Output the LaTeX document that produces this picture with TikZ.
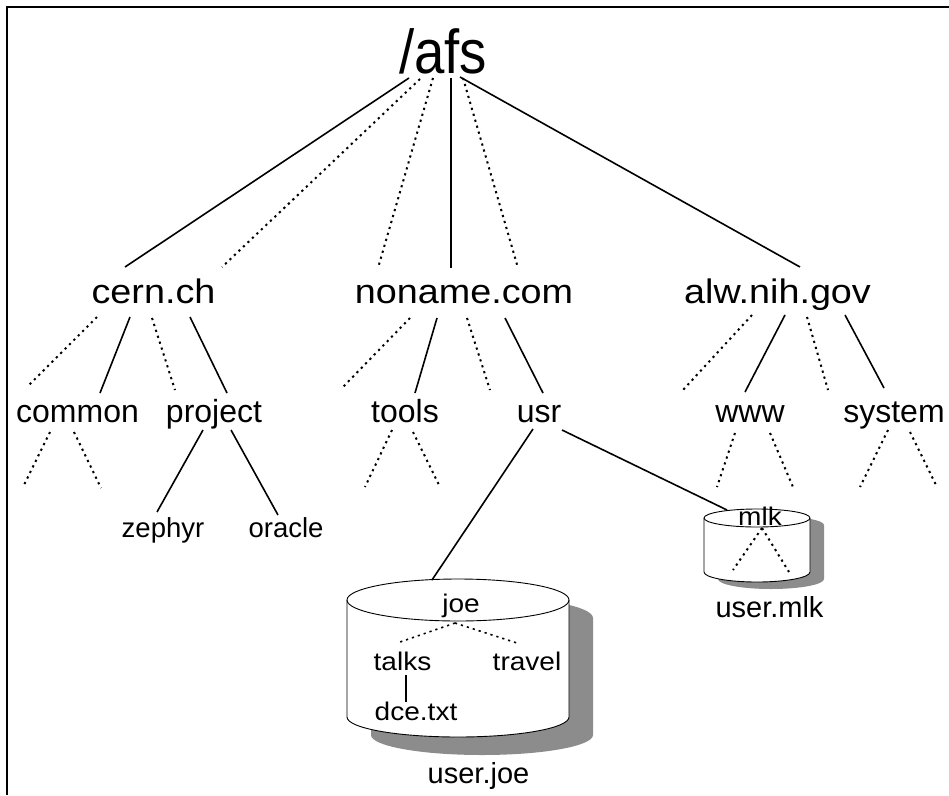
\documentclass[tikz,border=0pt]{standalone}
\usepackage{fontspec}
\setmainfont{Liberation Sans}
\newfontfamily\rootfont[FakeStretch=0.88]{Liberation Sans}
\newfontfamily\cellfont[FakeStretch=1.11]{Liberation Sans}
\newfontfamily\volfont[FakeStretch=1.1]{Liberation Sans}

\begin{document}
\begin{tikzpicture}[
    x=1pt, y=-1pt,
    every node/.style={inner sep=0pt, anchor=base},
    root/.style={font={\rootfont\fontsize{62}{62}\selectfont}},
    cell/.style={font={\cellfont\fontsize{34}{34}\selectfont}},
    dir/.style={font={\fontsize{32}{32}\selectfont}},
    leaf/.style={font={\fontsize{27.5}{28}\selectfont}},
    voltext/.style={font={\volfont\fontsize{25.5}{26}\selectfont}},
    vollabel/.style={font={\fontsize{29}{30}\selectfont}},
    link/.style={line width=1.6pt},
    more/.style={line width=2pt, dash pattern=on 2.2pt off 4pt},
    volume/.style={draw, line width=0.9pt, fill=white},
    shade/.style={fill=black!45}
]
\useasboundingbox (0,0) rectangle (949,795);

% frame
\draw[line width=1.8pt] (949,7) -- (7,7) -- (7,795);

% volumes
\fill[shade] (371,618) -- (371,735) arc (180:0:111 and 20) -- (593,618) arc (0:-180:111 and 21) -- cycle;
\draw[volume] (347,600) -- (347,717) arc (180:0:111 and 20) -- (569,600) arc (0:-180:111 and 21) -- cycle;
\draw[line width=0.9pt] (347,600) arc (180:0:111 and 21);

\fill[shade] (718,525) -- (718,579) arc (180:0:53 and 10) -- (824,525) arc (0:-180:53 and 9) -- cycle;
\draw[volume] (704,518) -- (704,572) arc (180:0:53 and 10) -- (810,518) arc (0:-180:53 and 9) -- cycle;
\draw[line width=0.9pt] (704,518) arc (180:0:53 and 9);

% directories
\node[root] (afs) at (443,73) {/afs};

\node[cell] (cern) at (153.5,303) {cern.ch};
\node[cell] (noname) at (464,303) {noname.com};
\node[cell] (alw) at (777.5,303) {alw.nih.gov};

\node[dir] (common) at (77.5,422) {common};
\node[dir] (project) at (214,422) {project};
\node[dir] (tools) at (405,422) {tools};
\node[dir] (usr) at (539,422) {usr};
\node[dir] (www) at (750,422) {www};
\node[dir] (system) at (894,422) {system};

\node[leaf] (zephyr) at (163,537) {zephyr};
\node[leaf] (oracle) at (286,537) {oracle};

\node[voltext] (joe) at (461,612) {joe};
\node[voltext] (talks) at (402.5,670) {talks};
\node[voltext] (travel) at (527,670) {travel};
\node[voltext] (dce) at (416,720) {dce.txt};
\node[vollabel] (userjoe) at (478.5,783) {user.joe};

\node[voltext] (mlk) at (760,525) {mlk};
\node[vollabel] (usermlk) at (769.5,617) {user.mlk};

% loose ends
\coordinate (afs1) at (222,267);
\coordinate (afs2) at (378,268);
\coordinate (afs3) at (518,268);
\coordinate (cern1) at (27,387);
\coordinate (cern2) at (175,390);
\coordinate (noname1) at (342,388);
\coordinate (noname2) at (490,390);
\coordinate (alw1) at (683,390);
\coordinate (alw2) at (828,390);
\coordinate (common1) at (23,487);
\coordinate (common2) at (101,488);
\coordinate (tools1) at (365,487);
\coordinate (tools2) at (440,487);
\coordinate (www1) at (717,487);
\coordinate (www2) at (793,487);
\coordinate (system1) at (860,487);
\coordinate (system2) at (937,487);
\coordinate (mlk1) at (733,570);
\coordinate (mlk2) at (789,572);
\coordinate (joerim) at (432,580);
\coordinate (mlkrim) at (727,510);

% /afs
\draw[link] ([shift={(-34,5)}]afs.base) -- ([shift={(-28.5,-36)}]cern.base);
\draw[more] ([shift={(-23,6)}]afs.base) -- (afs1);
\draw[more] ([shift={(-10,5)}]afs.base) -- (afs2);
\draw[link] ([shift={(8,5)}]afs.base) -- ([shift={(-13,-35)}]noname.base);
\draw[more] ([shift={(20,5)}]afs.base) -- (afs3);
\draw[link] ([shift={(17,4)}]afs.base) -- ([shift={(22.5,-36)}]alw.base);

% cells
\draw[more] ([shift={(-56.5,14)}]cern.base) -- (cern1);
\draw[link] ([shift={(-23.5,14)}]cern.base) -- ([shift={(22.5,-29)}]common.base);
\draw[more] ([shift={(-1.5,15)}]cern.base) -- (cern2);
\draw[link] ([shift={(36.5,14)}]cern.base) -- ([shift={(13,-29)}]project.base);

\draw[more] ([shift={(-54,15)}]noname.base) -- (noname1);
\draw[link] ([shift={(-27,15)}]noname.base) -- ([shift={(10,-29)}]tools.base);
\draw[more] ([shift={(3,15)}]noname.base) -- (noname2);
\draw[link] ([shift={(41,15)}]noname.base) -- ([shift={(4,-29)}]usr.base);

\draw[more] ([shift={(-25.5,12)}]alw.base) -- (alw1);
\draw[link] ([shift={(7.5,12)}]alw.base) -- ([shift={(-5,-30)}]www.base);
\draw[more] ([shift={(29.5,14)}]alw.base) -- (alw2);
\draw[link] ([shift={(67.5,12)}]alw.base) -- ([shift={(-10,-34)}]system.base);

% subdirectories
\draw[more] ([shift={(-27.5,10)}]common.base) -- (common1);
\draw[more] ([shift={(-3.5,10)}]common.base) -- (common2);
\draw[link] ([shift={(-11,8)}]project.base) -- ([shift={(-6,-25)}]zephyr.base);
\draw[link] ([shift={(17,8)}]project.base) -- ([shift={(-8,-22)}]oracle.base);
\draw[more] ([shift={(-13,8)}]tools.base) -- (tools1);
\draw[more] ([shift={(8,10)}]tools.base) -- (tools2);
\draw[link] ([shift={(-6,7)}]usr.base) -- (joerim);
\draw[link] ([shift={(23,8)}]usr.base) -- (mlkrim);
\draw[more] ([shift={(-15,11)}]www.base) -- (www1);
\draw[more] ([shift={(20,11)}]www.base) -- (www2);
\draw[more] ([shift={(-6,8)}]system.base) -- (system1);
\draw[more] ([shift={(16,10)}]system.base) -- (system2);

% inside the volumes
\draw[more, line width=1.6pt] ([shift={(-6,11)}]joe.base) -- ([shift={(-2.5,-28)}]talks.base);
\draw[more, line width=1.6pt] ([shift={(-6,11)}]joe.base) -- ([shift={(-10,-27)}]travel.base);
\draw[link] ([shift={(3.5,5)}]talks.base) -- ([shift={(-10,-18)}]dce.base);
\draw[more] ([shift={(2,3)}]mlk.base) -- (mlk1);
\draw[more] ([shift={(2,3)}]mlk.base) -- (mlk2);

\end{tikzpicture}
\end{document}
